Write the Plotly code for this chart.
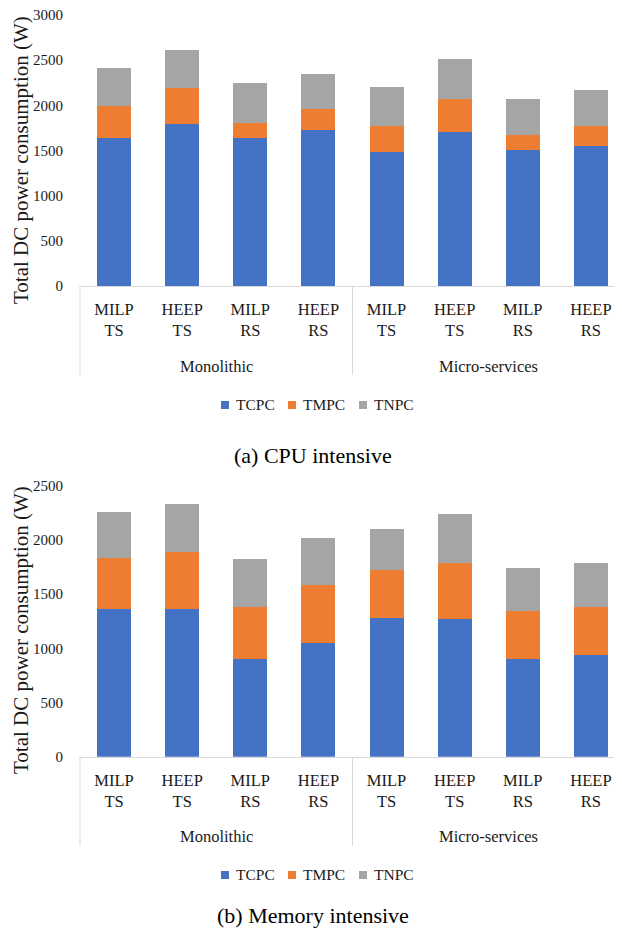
import plotly.graph_objects as go

# ---- data ----
architectures = ["Monolithic"] * 4 + ["Micro-services"] * 4
schemes = ["MILP<br>TS", "HEEP<br>TS", "MILP<br>RS", "HEEP<br>RS"] * 2
groups = ["Monolithic", "Micro-services"]
series_names = ["TCPC", "TMPC", "TNPC"]
series_colors = ["#4472C4", "#ED7D31", "#A5A5A5"]

cpu_tcpc = [1642, 1797, 1642, 1730, 1483, 1705, 1506, 1553]
cpu_tmpc = [347, 395, 162, 226, 292, 362, 166, 222]
cpu_tnpc = [424, 421, 443, 391, 425, 446, 395, 391]

mem_tcpc = [1365, 1365, 904, 1046, 1282, 1270, 904, 935]
mem_tmpc = [468, 526, 477, 535, 438, 514, 440, 446]
mem_tnpc = [427, 437, 440, 437, 381, 452, 394, 403]

y_title = "Total DC power consumption (W)"
captions = ["(a) CPU intensive", "(b) Memory intensive"]

# unique category keys, displayed with the scheme labels
categories = [f"{a} {s.replace('<br>', ' ')}" for a, s in zip(architectures, schemes)]

FONT = "Liberation Serif"
TXT = "#1a1a1a"
W, H = 622, 928
OFF = 8  # page body margin offset
PL, PR = 80 - OFF, 625 - OFF  # plot area left/right in figure px
PW = PR - PL


def fx(ref_x):
    return (ref_x - OFF - PL) / PW


def fy(ref_y):
    return 1 - (ref_y - OFF) / H


fig = go.Figure()

panels = [
    ((cpu_tcpc, cpu_tmpc, cpu_tnpc), "x", "y"),
    ((mem_tcpc, mem_tmpc, mem_tnpc), "x2", "y2"),
]
for vals_list, xa, ya in panels:
    for name, vals, col in zip(series_names, vals_list, series_colors):
        fig.add_trace(go.Bar(
            x=categories, y=vals, name=name,
            marker=dict(color=col, line=dict(width=0)),
            xaxis=xa, yaxis=ya, showlegend=False,
        ))

# plot areas (reference pixel rows)
top_base, top_top = 286, 15
bot_base, bot_top = 756.7, 485.7

xaxis_common = dict(
    type="category", range=[-0.5, 7.5],
    tickmode="array", tickvals=categories, ticktext=schemes,
    showline=True, linecolor="#d9d9d9", linewidth=1,
    tickfont=dict(family=FONT, size=16.5, color=TXT),
    ticks="", ticklabelstandoff=8,
    showgrid=False, zeroline=False, fixedrange=True,
)
yaxis_common = dict(
    showgrid=False, zeroline=False, showline=False, ticks="",
    dtick=500, tickfont=dict(family=FONT, size=15, color=TXT),
    ticklabelstandoff=16, ticklabeloverflow="allow", fixedrange=True,
)

fig.update_layout(
    width=W, height=H,
    margin=dict(l=PL, r=W - PR, t=0, b=0, autoexpand=False),
    paper_bgcolor="white", plot_bgcolor="white",
    font=dict(family=FONT, color=TXT),
    barmode="stack", bargap=0.5, showlegend=False,
    xaxis=dict(domain=[0, 1], anchor="y", **xaxis_common),
    yaxis=dict(domain=[fy(top_base), fy(top_top)], anchor="x", range=[0, 3000], **yaxis_common),
    xaxis2=dict(domain=[0, 1], anchor="y2", **xaxis_common),
    yaxis2=dict(domain=[fy(bot_base), fy(bot_top)], anchor="x2", range=[0, 2500], **yaxis_common),
)

shapes = []
for base, ytitle_c, legend_c, cap, cap_c in [
    (top_base, 160, 404.5, captions[0], 455),
    (bot_base, 630, 874.5, captions[1], 915),
]:
    # group dividers
    for gx in (0.0, 0.5, 1.0):
        shapes.append(dict(type="line", xref="paper", yref="paper",
                           x0=gx, x1=gx, y0=fy(base), y1=fy(base + 89),
                           line=dict(color="#d9d9d9", width=1)))
    # group labels
    for gi, g in enumerate(groups):
        fig.add_annotation(text=g, showarrow=False, xref="paper", yref="paper",
                           x=(gi * 4 + 2) / 8, y=fy(base + 80),
                           xanchor="center", yanchor="middle",
                           font=dict(family=FONT, size=16.5, color=TXT))
    # y-axis title
    fig.add_annotation(text=y_title, textangle=-90, showarrow=False,
                       xref="paper", yref="paper", x=fx(21), y=fy(ytitle_c),
                       xanchor="center", yanchor="middle", borderpad=0,
                       font=dict(family=FONT, size=21, color=TXT))
    # legend (squares + labels)
    sq_x = [221, 288, 359]
    for name, col, sx in zip(series_names, series_colors, sq_x):
        shapes.append(dict(type="rect", xref="paper", yref="paper",
                           x0=fx(sx), x1=fx(sx + 8),
                           y0=fy(legend_c + 4.5), y1=fy(legend_c - 3.5),
                           fillcolor=col, line=dict(width=0)))
        fig.add_annotation(text=name, showarrow=False, xref="paper", yref="paper",
                           x=fx(sx + 13), y=fy(legend_c),
                           xanchor="left", yanchor="middle",
                           font=dict(family=FONT, size=15.5, color=TXT))
    # caption
    fig.add_annotation(text=cap, showarrow=False, xref="paper", yref="paper",
                       x=fx(313), y=fy(cap_c), xanchor="center", yanchor="middle",
                       font=dict(family=FONT, size=22, color="#000000"))

fig.update_layout(shapes=shapes)
fig.write_html("out.html")
